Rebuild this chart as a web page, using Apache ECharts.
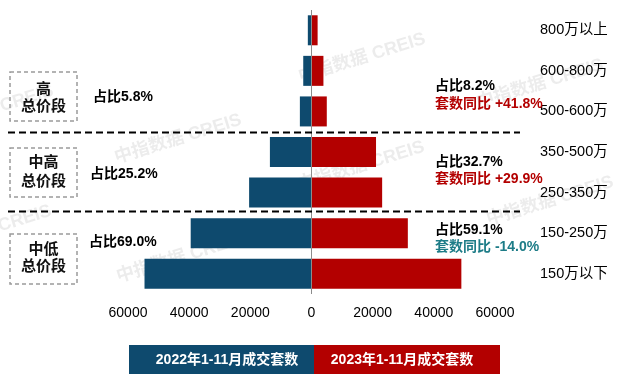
<!DOCTYPE html>
<html><head><meta charset="utf-8">
<script src="https://cdn.jsdelivr.net/npm/echarts@6/dist/echarts.min.js"></script>
<style>html,body{margin:0;padding:0;background:#fff}#c{width:621px;height:390px}</style>
</head><body><div id="c"></div>
<script>
var categories = ['800万以上','600-800万','500-600万','350-500万','250-350万','150-250万','150万以下'];
var sales2022 = [1200, 2700, 3800, 13600, 20400, 39500, 54600];
var sales2023 = [2000, 3900, 5000, 21100, 23100, 31500, 49000];
var xTicks = [-60000, -40000, -20000, 0, 20000, 40000, 60000];
var seriesNames = ['2022年1-11月成交套数','2023年1-11月成交套数'];
var groupNames = [['高','总价段'],['中高','总价段'],['中低','总价段']];
var share2022 = ['占比5.8%','占比25.2%','占比69.0%'];
var share2023 = ['占比8.2%','占比32.7%','占比59.1%'];
var yoy = ['套数同比 +41.8%','套数同比 +29.9%','套数同比 -14.0%'];

var FONT = '"Liberation Sans","Noto Sans CJK SC",sans-serif';
var BLUE = '#0E4A6E', RED = '#B30000', TEAL = '#1D7C87';

var chart = echarts.init(document.getElementById('c'), null, {renderer:'canvas'});
var g = [];
// watermarks
var wm = [[178,139],[362,58],[540,84],[361,166],[550,201],[-12,230],[180,258],[-10,110]];
wm.forEach(function(p){
  g.push({type:'text', x:p[0], y:p[1], rotation:0.3, z:0,
    style:{text:'中指数据 CREIS', fill:'rgba(160,160,160,0.2)', font:'bold 18px '+FONT, textAlign:'center', textVerticalAlign:'middle'}});
});
// dashed separators
[132.5, 211.5].forEach(function(y){
  g.push({type:'line', z:10, shape:{x1:8,y1:y,x2:520,y2:y}, style:{stroke:'#000', lineWidth:2, lineDash:[7,4]}});
});
// group boxes
var boxes = [[72,121,89.5,106.5],[148,197,163,182],[234,284,250,267]];
boxes.forEach(function(b,i){
  g.push({type:'rect', z:10, shape:{x:10,y:b[0],width:67,height:b[1]-b[0]}, style:{fill:'none', stroke:'#9a9a9a', lineWidth:1.5, lineDash:[4,3]}});
  g.push({type:'text', z:10, x:43.5, y:b[2], style:{text:groupNames[i][0], fill:'#111', font:'bold 15px '+FONT, textAlign:'center', textVerticalAlign:'middle'}});
  g.push({type:'text', z:10, x:43.5, y:b[3], style:{text:groupNames[i][1], fill:'#111', font:'bold 15px '+FONT, textAlign:'center', textVerticalAlign:'middle'}});
});
// left shares
var lpos = [[93,97],[90,174],[89,242]];
lpos.forEach(function(p,i){
  g.push({type:'text', z:10, x:p[0], y:p[1], style:{text:share2022[i], fill:'#000', font:'bold 14px '+FONT, textAlign:'left', textVerticalAlign:'middle'}});
});
// right annotations
var rpos = [[86,104],[162,179],[230,247]];
var ycol = [RED, RED, TEAL];
rpos.forEach(function(p,i){
  g.push({type:'text', z:10, x:435, y:p[0], style:{text:share2023[i], fill:'#000', font:'bold 14px '+FONT, textAlign:'left', textVerticalAlign:'middle'}});
  g.push({type:'text', z:10, x:435, y:p[1], style:{text:yoy[i], fill:ycol[i], font:'bold 14px '+FONT, textAlign:'left', textVerticalAlign:'middle'}});
});
// legend boxes
g.push({type:'rect', z:10, shape:{x:129,y:345,width:185,height:29}, style:{fill:BLUE}});
g.push({type:'rect', z:10, shape:{x:314,y:345,width:186,height:29}, style:{fill:RED}});
g.push({type:'text', z:11, x:227, y:360, style:{text:seriesNames[0], fill:'#fff', font:'bold 14px '+FONT, textAlign:'center', textVerticalAlign:'middle'}});
g.push({type:'text', z:11, x:402, y:360, style:{text:seriesNames[1], fill:'#fff', font:'bold 14px '+FONT, textAlign:'center', textVerticalAlign:'middle'}});

chart.setOption({
  animation:false,
  backgroundColor:'#fff',
  grid:{left:128, right:126, top:10, bottom:96, containLabel:false},
  xAxis:{type:'value', min:xTicks[0], max:xTicks[xTicks.length-1], interval:xTicks[1]-xTicks[0],
    axisLine:{show:false}, axisTick:{show:false}, splitLine:{show:false},
    axisLabel:{margin:12, color:'#000', fontSize:14, fontFamily:FONT, formatter:function(v){return String(Math.abs(v));}}},
  yAxis:{type:'category', data:categories, inverse:true, position:'right',
    axisLine:{show:false}, axisTick:{show:false}, splitLine:{show:false},
    axisLabel:{margin:45, color:'#000', fontSize:14.5, fontFamily:FONT, align:'left'}},
  series:[
    {name:seriesNames[0], type:'bar', stack:'t', barWidth:30, data:sales2022.map(function(v){return -v;}),
      itemStyle:{color:BLUE},
      markLine:{silent:true, symbol:'none', label:{show:false}, lineStyle:{color:'#8c8c8c', width:1, type:'solid'}, data:[{xAxis:0}]}},
    {name:seriesNames[1], type:'bar', stack:'t', barWidth:30, data:sales2023, itemStyle:{color:RED}}
  ],
  graphic:g
});
</script></body></html>
